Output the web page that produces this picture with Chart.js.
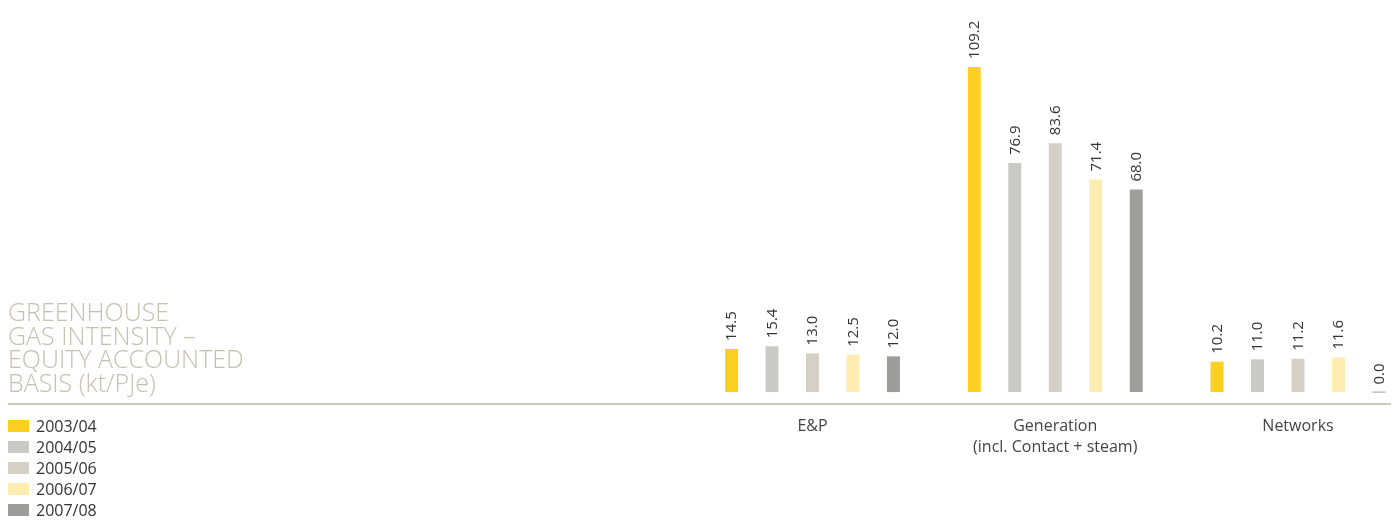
<!DOCTYPE html>
<html>
<head>
<meta charset="utf-8">
<script src="https://cdn.jsdelivr.net/npm/chart.js@4"></script>
<style>
  html, body { margin: 0; padding: 0; background: #fff; }
  #wrap { position: relative; width: 1399px; height: 529px; }
  #chart { position: absolute; left: 0; top: 0; }
  #title {
    position: absolute; left: 8px; top: 300px;
    font-family: "Open Sans", sans-serif; font-weight: 300;
    font-size: 25px; line-height: 23.7px; color: #c6c0b0;
  }
  #legend { position: absolute; left: 8px; top: 415px; font-family: "Open Sans", sans-serif; }
  .row { height: 21px; display: flex; align-items: center; font-size: 16px; color: #333; }
  .sw { width: 21px; height: 12px; margin-right: 7px; }
</style>
</head>
<body>
<div id="wrap">
  <canvas id="chart" width="1399" height="529"></canvas>
  <div id="title">GREENHOUSE<br>GAS INTENSITY –<br>EQUITY ACCOUNTED<br>BASIS (kt/PJe)</div>
  <div id="legend"></div>
</div>
<script>
const categories = ['E&P', ['Generation', '(incl. Contact + steam)'], 'Networks'];
const seasons = ['2003/04', '2004/05', '2005/06', '2006/07', '2007/08'];
const colours = ['#fcd023', '#c9cac8', '#d4d0c5', '#ffecb0', '#9d9e9c'];

const v2003 = [14.5, 109.2, 10.2];
const v2004 = [15.4, 76.9, 11.0];
const v2005 = [13.0, 83.6, 11.2];
const v2006 = [12.5, 71.4, 11.6];
const v2007 = [12.0, 68.0, 0.0];

const series = [v2003, v2004, v2005, v2006, v2007];

const datasets = series.map(function (vals, i) {
  return {
    label: seasons[i],
    data: vals.map(function (v, k) { return { x: k, y: v }; }),
    backgroundColor: colours[i],
    categoryPercentage: 0.834,
    barPercentage: 0.32,
    minBarLength: 1
  };
});

// value labels, rotated, just above each bar
const valueLabels = {
  id: 'valueLabels',
  afterDatasetsDraw(chart) {
    const ctx = chart.ctx;
    ctx.save();
    ctx.font = '15px "Open Sans", sans-serif';
    ctx.fillStyle = '#333';
    ctx.textAlign = 'left';
    ctx.textBaseline = 'middle';
    chart.data.datasets.forEach(function (ds, i) {
      chart.getDatasetMeta(i).data.forEach(function (bar, k) {
        ctx.save();
        ctx.translate(bar.x + 0.5, bar.y - 8);
        ctx.rotate(-Math.PI / 2);
        ctx.fillText(series[i][k].toFixed(1), 0, 0);
        ctx.restore();
      });
    });
    ctx.restore();
  }
};

new Chart(document.getElementById('chart').getContext('2d'), {
  type: 'bar',
  data: { datasets: datasets },
  options: {
    responsive: false,
    animation: false,
    layout: { padding: { left: 9, right: 9, top: 5, bottom: 0 } },
    plugins: { legend: { display: false }, tooltip: { enabled: false } },
    scales: {
      x: {
        type: 'linear',
        offset: false,
        min: -3.31,
        max: 2.379,
        grid: { display: false, drawTicks: false, offset: false },
        border: { display: true, color: '#cdc9bb', width: 2 },
        ticks: {
          stepSize: 1,
          includeBounds: false,
          autoSkip: false,
          maxRotation: 0,
          padding: 12,
          color: '#444',
          font: { family: '"Open Sans", sans-serif', size: 16, lineHeight: 1.32 },
          callback: function (value) {
            return (Number.isInteger(value) && value >= 0 && value < categories.length) ? categories[value] : '';
          }
        },
        afterFit: function (scale) { scale.height = 125; }
      },
      y: {
        display: false,
        min: -4.0,
        max: 130
      }
    }
  },
  plugins: [valueLabels]
});

const legend = document.getElementById('legend');
seasons.forEach(function (s, i) {
  const row = document.createElement('div');
  row.className = 'row';
  row.innerHTML = '<div class="sw" style="background:' + colours[i] + '"></div>' + s;
  legend.appendChild(row);
});
</script>
</body>
</html>
